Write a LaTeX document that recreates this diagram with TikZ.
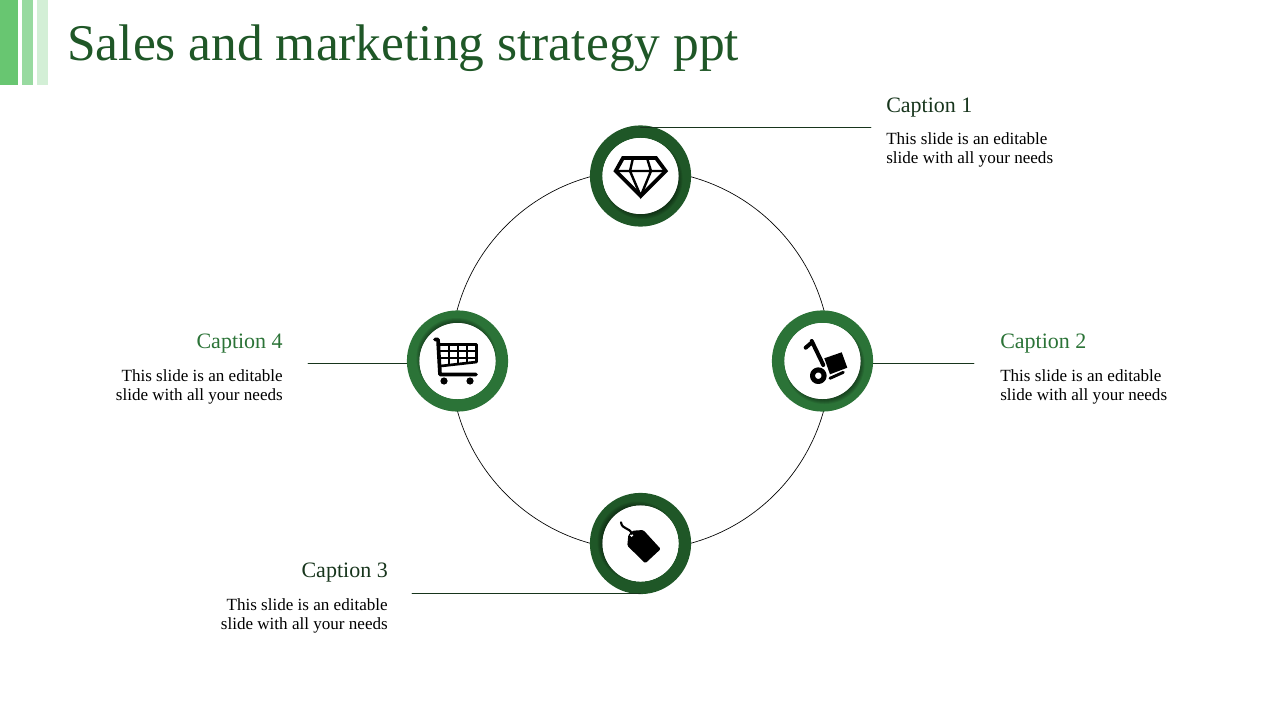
\documentclass[tikz,border=0pt]{standalone}
\usepackage{fontspec}
\setmainfont{Liberation Serif}
\usetikzlibrary{backgrounds}
\definecolor{darkgrn}{HTML}{1F5727}
\definecolor{midgrn}{HTML}{2B7337}
\definecolor{capgrn}{HTML}{17351C}
\tikzset{
  ring/.style={circle,draw=#1,line width=9.4pt,fill=white,minimum size=66.5pt,inner sep=0pt},
  leader/.style={line width=.5pt,draw=capgrn},
  captext/.style={font=\fontsize{16.5}{18}\selectfont,inner sep=0pt},
  bodytext/.style={font=\fontsize{12.8}{14.3}\selectfont,inner sep=0pt},
}
\begin{document}
\begin{tikzpicture}[x=.75pt,y=-.75pt,line cap=round,line join=round]
    \useasboundingbox(0,0)rectangle(1280,720);
    % bars and title
    \fill[color={rgb,255:red,104;green,198;blue,113}](0,0)rectangle(18,85);
    \fill[color={rgb,255:red,152;green,218;blue,160}](22,0)rectangle(33,85);
    \fill[color={rgb,255:red,211;green,239;blue,214}](37,0)rectangle(48,85);
    \node[anchor=base west,inner sep=0pt,text=darkgrn,font=\fontsize{38.6}{40}\selectfont](title)at(67,61){Sales and marketing strategy ppt};
    % rings
    \node[ring=darkgrn](ringa)at(640.5,176){};
    \node[ring=midgrn](ringb)at(822.5,361){};
    \node[ring=darkgrn](ringc)at(640.5,543.5){};
    \node[ring=midgrn](ringd)at(457.5,361){};
    % big circle
    \coordinate(hub)at(640.5,360);
    \begin{scope}[on background layer]
        \draw[line width=.5pt](hub)circle(190);
    \end{scope}
    % inner shadows
    \foreach \n/\dx/\dy in{ringa/2/3,ringb/2/3,ringc/-3/-2,ringd/-1/-3}{
        \begin{scope}
            \clip(\n)circle(44);
            \foreach \r in{36,37,38,39,40}
            \fill[black,opacity=.09]([shift={(\dx,\dy)}]\n)circle(\r);
        \end{scope}
        \fill[white](\n)circle(38);
    }
    % leaders
    \coordinate(enda)at(871,127.3);
    \coordinate(endb)at(974,363);
    \coordinate(endc)at(412,593.5);
    \coordinate(endd)at(308,363);
    \draw[leader](ringa.north|-enda)--(enda);
    \draw[leader](ringb.east|-endb)--(endb);
    \draw[leader](ringc.south|-endc)--(endc);
    \draw[leader](ringd.west|-endd)--(endd);
    % captions
    \node[captext,anchor=base west,text=capgrn](capa)at(886,113){Caption 1};
    \node[bodytext,anchor=north west,align=left](bodya)at(886,132){This slide is an editable\\slide with all your needs};
    \node[captext,anchor=base west,text=midgrn](capb)at(1000,348){Caption 2};
    \node[bodytext,anchor=north west,align=left](bodyb)at(1000,369){This slide is an editable\\slide with all your needs};
    \node[captext,anchor=base east,text=capgrn](capc)at(388,577){Caption 3};
    \node[bodytext,anchor=north east,align=right](bodyc)at(388,598){This slide is an editable\\slide with all your needs};
    \node[captext,anchor=base east,text=midgrn](capd)at(283,348){Caption 4};
    \node[bodytext,anchor=north east,align=right](bodyd)at(283,369){This slide is an editable\\slide with all your needs};
    % diamond
    \draw[line width=2.8pt,line join=miter,miter limit=10](623,158)--(656,158)--(665.7,171)--(640.7,196)--(615.7,171)--cycle;
    \draw[line width=1.8pt,line join=miter](615.7,171)--(665.7,171)(633,158)--(630,171)--(640.7,196)--(651,171)--(647,158);
    % cart
    \draw[line width=2.8pt](435,339.5)--(438,339.5)--(440,374.5)--(476,374.5);
    \draw[line width=2pt](440,344.5)--(476.5,344.5)--(476.5,362)--(441,366);
    \draw[line width=1.7pt](449,344.5)--(449,365)(458,344.5)--(458,364)(467,344.5)--(467,363)(440,351)--(476.5,351)(440.5,358)--(476.5,358);
    \fill(444,381)circle(3.6)(470,381)circle(3.6);
    % trolley
    \draw[line width=3pt](805.7,347.7)--(812.3,342)(811.7,341)--(823.3,365);
    \draw[line width=3.8pt](818.3,375.7)circle(5.8);
    \fill(824.3,358.3)--(841.7,352.3)--(847.3,367.7)--(830,374.3)--cycle;
    \draw[line width=2.2pt](830,378.3)--(843.3,372.3);
    % tag
    \fill[rounded corners=1pt](632.7,530.7)--(643.3,530)--(660.7,549)--(645.3,563.3)--(627.3,545.7)--(628.3,535)--cycle;
    \fill[white](631.7,535.3)circle(1.7);
    \draw[line width=1.6pt](631.7,534)..controls(630,527)and(622,530)..(621,522.3);
\end{tikzpicture}
\end{document}
